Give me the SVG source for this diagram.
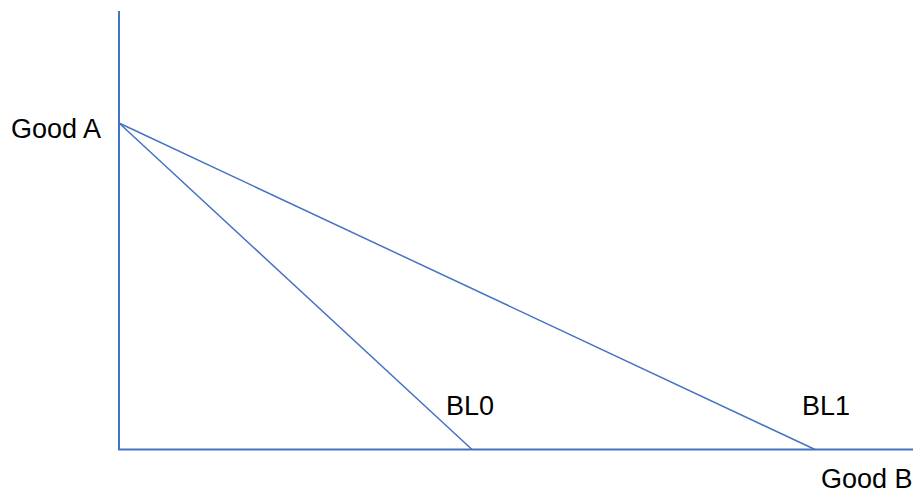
<svg xmlns="http://www.w3.org/2000/svg" width="918" height="495" viewBox="0 0 918 495">
<style>
.ax{stroke:#4472C4;stroke-width:2;fill:none}
.bl{stroke:#4472C4;stroke-width:1.5;fill:none}
text{font-family:"Liberation Sans",Arial,sans-serif;font-size:27px;fill:#000}
</style>
<rect width="918" height="495" fill="#fff"/>
<g id="connectors">
<line class="ax" x1="119" y1="11" x2="119" y2="450"/>
<line class="ax" x1="118" y1="449.5" x2="913" y2="449.5"/>
<line id="bl0" class="bl" x1="119" y1="123" x2="472" y2="449.5"/>
<line id="bl1" class="bl" x1="119" y1="123" x2="815" y2="449.5"/>
</g>
<g id="label-goodA"><text x="11" y="138">Good A</text></g>
<g id="label-goodB"><text x="821" y="488">Good B</text></g>
<g id="label-BL0"><text x="446" y="415">BL0</text></g>
<g id="label-BL1"><text x="802" y="415">BL1</text></g>
</svg>
